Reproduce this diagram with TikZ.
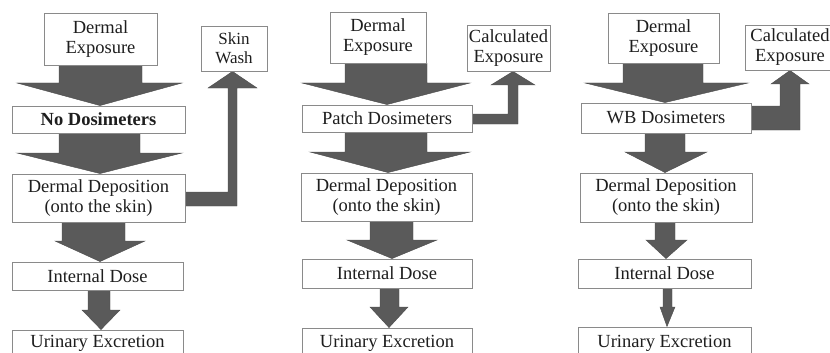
\documentclass[tikz,border=0pt]{standalone}
\usepackage{fontspec}
\setmainfont{Liberation Serif}
\usetikzlibrary{calc}
\definecolor{boxgray}{HTML}{8A8A8A}
\definecolor{arrgray}{HTML}{5A5A5A}
\definecolor{txt}{HTML}{1E1E1E}
\pgfdeclarelayer{bg}
\pgfsetlayers{bg,main}
\tikzset{
  box/.style={draw=boxgray, line width=0.9pt, fill=white, inner sep=0pt, align=center,
    text=txt, font=\fontsize{18.5}{20}\selectfont},
  blk/.style={fill=arrgray, draw=arrgray!85!black, line width=0.4pt}
}
% #1 from, #2 to, #3 shaft left, #4 shaft right, #5 head base y, #6 head left, #7 head right, #8 tip x
\newcommand{\blkdown}[8]{%
  \path[blk] let \p1=(#1.south), \p2=(#2.north) in
    (#3,\y1) -- (#4,\y1) -- (#4,#5) -- (#7,#5) -- (#8,\y2) -- (#6,#5) -- (#3,#5) -- cycle;}
% #1 from, #2 to, #3 band top, #4 band bottom, #5 shaft left, #6 shaft right, #7 head base y, #8 head half, #9 tip x
\newcommand{\blkelbow}[9]{%
  \path[blk] let \p1=(#1.east), \p2=(#2.south) in
    (\x1,#3) -- (#5,#3) -- (#5,#7) -- (#9-#8,#7) -- (#9,\y2) -- (#9+#8,#7) -- (#6,#7) -- (#6,#4) -- (\x1,#4) -- cycle;}
\begin{document}
\begin{tikzpicture}[x=1pt,y=-1pt]
\useasboundingbox (0,0) rectangle (830,353);
% Panel 1
\node[box, minimum width=113, minimum height=52] (e1) at (100.5,39) {Dermal\\Exposure};
\node[box, minimum width=173, minimum height=27] (d1) at (98.5,119.5) {\bfseries No Dosimeters};
\node[box, minimum width=173, minimum height=48] (p1) at (98.5,198) {Dermal Deposition\\(onto the skin)};
\node[box, minimum width=171, minimum height=28] (i1) at (97.5,276) {Internal Dose};
\node[box, minimum width=171, minimum height=26] (u1) at (97.5,343) {Urinary Excretion};
\node[box, minimum width=66, minimum height=45, font=\fontsize{17}{19}\selectfont] (s1) at (234,48.5) {Skin\\Wash};
% Panel 2
\node[box, minimum width=96, minimum height=51] (e2) at (378,37.5) {Dermal\\Exposure};
\node[box, minimum width=170, minimum height=27] (d2) at (387,118.5) {Patch Dosimeters};
\node[box, minimum width=171, minimum height=48] (p2) at (386.5,197) {Dermal Deposition\\(onto the skin)};
\node[box, minimum width=170, minimum height=29] (i2) at (387,273.5) {Internal Dose};
\node[box, minimum width=170, minimum height=30] (u2) at (387,343) {Urinary Excretion};
\node[box, minimum width=83, minimum height=46] (c2) at (508.5,48) {Calculated\\Exposure};
% Panel 3
\node[box, minimum width=111, minimum height=50] (e3) at (663.5,38) {Dermal\\Exposure};
\node[box, minimum width=170, minimum height=30] (d3) at (666,118) {WB Dosimeters};
\node[box, minimum width=172, minimum height=49] (p3) at (666,197.5) {Dermal Deposition\\(onto the skin)};
\node[box, minimum width=173, minimum height=29] (i3) at (664.5,273.5) {Internal Dose};
\node[box, minimum width=173, minimum height=32] (u3) at (664.5,343) {Urinary Excretion};
\node[box, minimum width=90, minimum height=45] (c3) at (790,47.5) {Calculated\\Exposure};
\begin{pgfonlayer}{bg}
\blkdown{e1}{d1}{59}{142}{83}{17}{182}{100}
\blkdown{d1}{p1}{59}{140}{153}{17}{182}{100}
\blkdown{p1}{i1}{62}{125}{241}{55}{145}{100}
\blkdown{i1}{u1}{88}{110}{310}{82}{120}{101}
\blkelbow{p1}{s1}{192}{206}{228}{237}{88}{24.5}{232.5}
\blkdown{e2}{d2}{345}{427}{83}{302}{470}{387}
\blkdown{d2}{p2}{345}{427}{152}{310}{470}{388}
\blkdown{p2}{i2}{370}{413}{240}{347}{437}{392}
\blkdown{i2}{u2}{380}{399}{307}{370}{408}{389}
\blkelbow{d2}{c2}{114}{124}{508}{518}{85}{22}{513}
\blkdown{e3}{d3}{623}{703}{83}{585}{748}{665}
\blkdown{d3}{p3}{645}{685}{152}{625}{707}{665}
\blkdown{p3}{i3}{655}{675}{240}{646}{687}{666}
\blkdown{i3}{u3}{663}{672}{307}{660}{675}{667}
\blkelbow{d3}{c3}{106}{130}{780}{800}{84}{19}{790}
\end{pgfonlayer}
\end{tikzpicture}
\end{document}
